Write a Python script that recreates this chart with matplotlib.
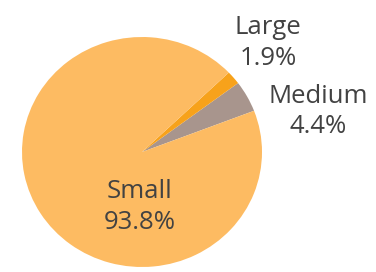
import matplotlib
matplotlib.use("Agg")
import matplotlib.pyplot as plt

categories = ["Medium", "Large", "Small"]
values = [4.4, 1.9, 93.8]
colors = ["#A8958D", "#F7A21B", "#FDBB62"]
label_pos = {"Large": (1.05, 0.95), "Medium": (1.467, 0.352), "Small": (-0.017, -0.478)}

W, H = 376, 272
fig = plt.figure(figsize=(W / 100, H / 100), dpi=100)
ax = fig.add_axes([0, 0, 1, 1])
cx, cy, rx, ry = 142, 152, 120, 115

ax.pie(values, colors=colors, startangle=21, counterclock=True,
       radius=1, wedgeprops=dict(linewidth=0))
ax.set_aspect("auto")
ax.set_xlim((0 - cx) / rx, (W - cx) / rx)
ax.set_ylim((cy - H) / ry, (cy - 0) / ry)
ax.axis("off")

for cat, v in zip(categories, values):
    x, y = label_pos[cat]
    ax.text(x, y, f"{cat}\n{v:.1f}%", ha="center", va="center",
            fontsize=18.5, family=["Open Sans", "DejaVu Sans"],
            color="#424242", linespacing=1.3)

fig.savefig("out.png", dpi=100)
